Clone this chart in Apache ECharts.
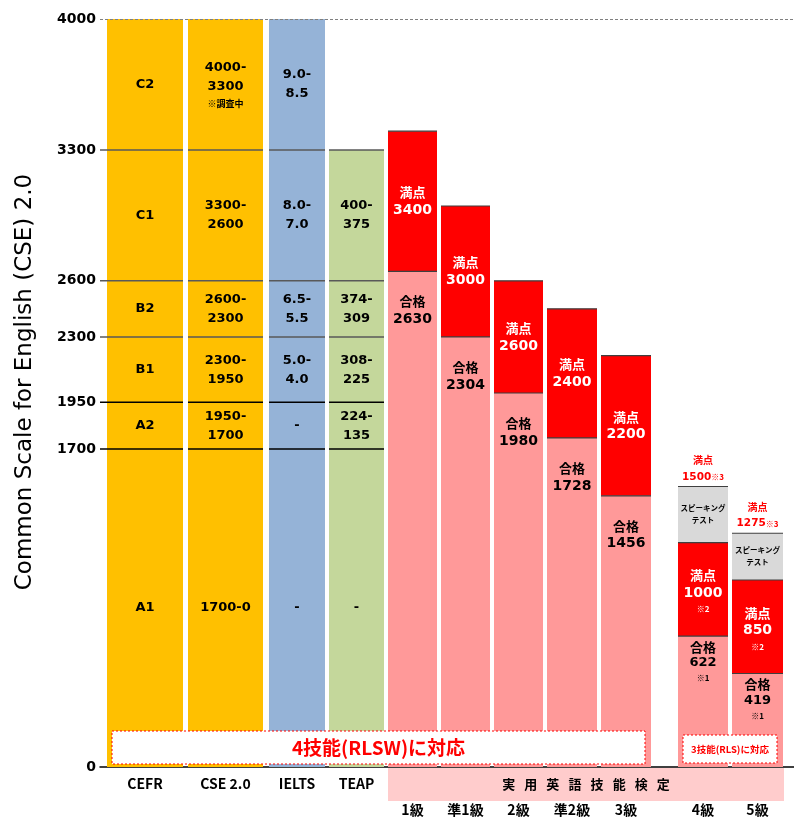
<!DOCTYPE html>
<html><head><meta charset="utf-8">
<script src="https://cdn.jsdelivr.net/npm/echarts@6/dist/echarts.min.js"></script>
<style>html,body{margin:0;padding:0;background:#fff}#c{width:794px;height:826px}</style>
</head><body><div id="c"></div>
<script>
// ---------------- data ----------------
const cseBounds = [4000, 3300, 2600, 2300, 1950, 1700, 0];
const yTicks = [0, 1700, 1950, 2300, 2600, 3300, 4000];
const cefrLevels = ['C2', 'C1', 'B2', 'B1', 'A2', 'A1'];
const cseRanges = ['4000-\n3300', '3300-\n2600', '2600-\n2300', '2300-\n1950', '1950-\n1700', '1700-0'];
const cseNotes = ['※調査中', '', '', '', '', ''];
const ieltsBands = ['9.0-\n8.5', '8.0-\n7.0', '6.5-\n5.5', '5.0-\n4.0', '-', '-'];
const teapScores = [null, '400-\n375', '374-\n309', '308-\n225', '224-\n135', '-'];
const testNames = ['CEFR', 'CSE 2.0', 'IELTS', 'TEAP'];
const gradeNames = ['1級', '準1級', '2級', '準2級', '3級', '4級', '5級'];
const fullScoreLabel = ['3400', '3000', '2600', '2400', '2200', '1000', '850'];
const passScoreLabel = ['2630', '2304', '1980', '1728', '1456', '622', '419'];
const speakingScoreLabel = [null, null, null, null, null, '1500', '1275'];
const fullNote = ['', '', '', '', '', '※2', '※2'];
const passNote = ['', '', '', '', '', '※1', '※1'];
const speakingNote = ['', '', '', '', '', '※3', '※3'];
// heights as drawn in the picture (CSE scale)
const passTop = [2650, 2300, 2000, 1760, 1450, 700, 500];
const fullTop = [3400, 3000, 2600, 2450, 2200, 1200, 1000];
const speakingTop = [null, null, null, null, null, 1500, 1250];

// ---------------- layout ----------------
const GRID_LEFT = 100, GRID_TOP = 19, GRID_BOTTOM = 59, X_MAX = 694;
const TABLE_COLS = [[7, 83], [88, 163], [169, 225], [229, 284]];
const GRADE_COLS = [[288, 337], [341, 390], [394, 443], [447, 497], [501, 551], [578, 628], [632, 683]];
const COL_COLORS = ['#ffc000', '#ffc000', '#95b3d7', '#c4d79b'];
const FF_NUM = '"DejaVu Sans","Noto Sans CJK JP",sans-serif';
const FF_JP = '"Noto Sans CJK JP","DejaVu Sans",sans-serif';
const FF_AX = '"Liberation Sans Narrow","Noto Sans CJK JP",sans-serif';

const tableTexts = [cefrLevels, cseRanges, ieltsBands, teapScores];
const tableItems = [];
for (let c = 0; c < 4; c++) {
  for (let b = 0; b < 6; b++) {
    const t = tableTexts[c][b];
    if (t === null) continue;
    tableItems.push({ value: [c, cseBounds[b + 1], cseBounds[b], b], text: t, note: c === 1 ? cseNotes[b] : '' });
  }
}

function rich(fill) {
  return {
    a: { fill, fontFamily: FF_NUM, fontSize: 13, fontWeight: 'bold', lineHeight: 19 },
    k: { fill, fontFamily: FF_JP, fontSize: 13, fontWeight: 'bold', lineHeight: 18 },
    n: { fill, fontFamily: FF_NUM, fontSize: 14, fontWeight: 'bold', lineHeight: 18 },
    k2: { fill, fontFamily: FF_JP, fontSize: 13, fontWeight: 'bold', lineHeight: 16 },
    n2: { fill, fontFamily: FF_NUM, fontSize: 13, fontWeight: 'bold', lineHeight: 16 },
    s: { fill, fontFamily: FF_JP, fontSize: 8, fontWeight: 'bold', lineHeight: 14 },
    note: { fill, fontFamily: FF_JP, fontSize: 9, fontWeight: 'bold', lineHeight: 15 },
    t: { fill, fontFamily: FF_JP, fontSize: 7.5, fontWeight: 'bold', lineHeight: 12 },
    r: { fill, fontFamily: FF_JP, fontSize: 10, fontWeight: 'bold', lineHeight: 17 },
    rn: { fill, fontFamily: FF_NUM, fontSize: 10.5, fontWeight: 'bold', lineHeight: 17 },
    rs: { fill, fontFamily: FF_JP, fontSize: 8, fontWeight: 'bold', lineHeight: 17 }
  };
}
function richLines(tag, s) { return s.split('\n').map(l => '{' + tag + '|' + l + '}').join('\n'); }

function renderTable(params, api) {
  const item = tableItems[params.dataIndex];
  const c = api.value(0), lo = api.value(1), hi = api.value(2);
  const [x0, x1] = TABLE_COLS[c];
  const tl = api.coord([x0, hi]), br = api.coord([x1, lo]);
  const children = [{ type: 'rect', shape: { x: tl[0], y: tl[1], width: br[0] - tl[0], height: br[1] - tl[1] }, style: { fill: COL_COLORS[c] } }];
  if (hi < 4000) {
    const xs = c === 0 ? api.coord([0, hi])[0] : tl[0];
    children.push({ type: 'line', shape: { x1: xs, y1: tl[1], x2: br[0], y2: tl[1] }, style: { stroke: hi >= 2300 ? '#595959' : '#000', lineWidth: 1.5 } });
  }
  let txt = richLines('a', item.text);
  if (item.note) txt += '\n{note|' + item.note + '}';
  children.push({ type: 'text', style: { text: txt, rich: rich('#000'), x: (tl[0] + br[0]) / 2, y: (tl[1] + br[1]) / 2, align: 'center', verticalAlign: 'middle' } });
  return { type: 'group', children };
}

function renderGrade(params, api) {
  const g = params.dataIndex;
  const [x0, x1] = GRADE_COLS[g];
  const cx = (api.coord([x0, 0])[0] + api.coord([x1, 0])[0]) / 2;
  const pB = api.coord([x0, 0]), pP = api.coord([x1, api.value(1)]), pF = api.coord([x1, api.value(2)]);
  const w = pP[0] - pB[0];
  const sp = api.value(3);
  const hasSp = isFinite(sp) && sp > 0;
  const children = [];
  children.push({ type: 'rect', shape: { x: pB[0], y: pP[1], width: w, height: pB[1] - pP[1] }, style: { fill: '#ff9999' } });
  children.push({ type: 'rect', shape: { x: pB[0], y: pF[1], width: w, height: pP[1] - pF[1] }, style: { fill: '#ff0000' } });
  let pS = null;
  if (hasSp) {
    pS = api.coord([x1, sp]);
    children.push({ type: 'rect', shape: { x: pB[0], y: pS[1], width: w, height: pF[1] - pS[1] }, style: { fill: '#d9d9d9' } });
  }
  const tops = [pP[1], pF[1]];
  if (pS) tops.push(pS[1]);
  tops.forEach(y => children.push({ type: 'line', shape: { x1: pB[0], y1: y, x2: pB[0] + w, y2: y }, style: { stroke: '#3f3f3f', lineWidth: 1.2 } }));
  if (!hasSp) {
    children.push({ type: 'text', style: { text: '{k|満点}\n{n|' + fullScoreLabel[g] + '}', rich: rich('#fff'), x: cx, y: (pF[1] + pP[1]) / 2, align: 'center', verticalAlign: 'middle' } });
    children.push({ type: 'text', style: { text: '{k|合格}\n{n|' + passScoreLabel[g] + '}', rich: rich('#000'), x: cx, y: pP[1] + 21, align: 'center', verticalAlign: 'top' } });
  } else {
    children.push({ type: 'text', style: { text: '{k|満点}\n{n|' + fullScoreLabel[g] + '}\n{s|' + fullNote[g] + '}', rich: rich('#fff'), x: cx, y: (pF[1] + pP[1]) / 2 + 2, align: 'center', verticalAlign: 'middle' } });
    children.push({ type: 'text', style: { text: '{k2|合格}\n{n2|' + passScoreLabel[g] + '}\n{s|' + passNote[g] + '}', rich: rich('#000'), x: cx, y: pP[1] + 3, align: 'center', verticalAlign: 'top' } });
    children.push({ type: 'text', style: { text: '{t|スピーキング}\n{t|テスト}', rich: rich('#000'), x: cx, y: (pS[1] + pF[1]) / 2, align: 'center', verticalAlign: 'middle' } });
    children.push({ type: 'text', style: { text: '{r|満点}\n{rn|' + speakingScoreLabel[g] + '}{rs|' + speakingNote[g] + '}', rich: rich('#ff0000'), x: cx, y: pS[1] - 1, align: 'center', verticalAlign: 'bottom' } });
  }
  return { type: 'group', children };
}

const gradeData = gradeNames.map((n, i) => [i, passTop[i], fullTop[i], speakingTop[i] === null ? 0 : speakingTop[i]]);

// graphic (below-axis labels, title, annotation boxes)
const plotBottom = 826 - GRID_BOTTOM;
const graphic = [];
graphic.push({ type: 'text', x: 25, y: 382, rotation: Math.PI / 2, style: { text: 'Common Scale for English (CSE) 2.0', fontFamily: FF_NUM, fontSize: 23, fill: '#000', align: 'center', verticalAlign: 'middle' } });
graphic.push({ type: 'rect', shape: { x: GRID_LEFT + GRADE_COLS[0][0], y: plotBottom + 1, width: 684 - GRADE_COLS[0][0], height: 33 }, style: { fill: '#ffcccc' } });
graphic.push({ type: 'text', x: GRID_LEFT + (GRADE_COLS[0][0] + 684) / 2, y: plotBottom + 17, style: { text: '実用英語技能検定'.split('').join('\u2002\u2009'), fontFamily: FF_JP, fontSize: 13, fontWeight: 'bold', fill: '#000', align: 'center', verticalAlign: 'middle' } });
testNames.forEach((n, i) => {
  graphic.push({ type: 'text', x: GRID_LEFT + (TABLE_COLS[i][0] + TABLE_COLS[i][1]) / 2, y: plotBottom + 17, style: { text: n, fontFamily: FF_AX, fontSize: 14, fontWeight: 'bold', fill: '#000', align: 'center', verticalAlign: 'middle' } });
});
gradeNames.forEach((n, i) => {
  graphic.push({ type: 'text', x: GRID_LEFT + (GRADE_COLS[i][0] + GRADE_COLS[i][1]) / 2, y: plotBottom + 43, style: { text: n, fontFamily: FF_AX, fontSize: 14, fontWeight: 'bold', fill: '#000', align: 'center', verticalAlign: 'middle' } });
});
graphic.push({ type: 'rect', z: 100, zlevel: 1, shape: { x: 112, y: 731, width: 533, height: 33 }, style: { fill: '#fff', stroke: '#ff0000', lineWidth: 1, lineDash: [2, 2] } });
graphic.push({ type: 'text', z: 101, zlevel: 1, x: 378.5, y: 748, style: { text: '4技能(RLSW)に対応', fontFamily: FF_JP, fontSize: 19, fontWeight: 'bold', fill: '#ff0000', align: 'center', verticalAlign: 'middle' } });
graphic.push({ type: 'rect', z: 100, zlevel: 1, shape: { x: 683, y: 735, width: 94, height: 28 }, style: { fill: '#fff', stroke: '#ff0000', lineWidth: 1, lineDash: [2, 2] } });
graphic.push({ type: 'text', z: 101, zlevel: 1, x: 730, y: 749, style: { text: '3技能(RLS)に対応', fontFamily: FF_JP, fontSize: 9.5, fontWeight: 'bold', fill: '#ff0000', align: 'center', verticalAlign: 'middle' } });

const chart = echarts.init(document.getElementById('c'), null, { renderer: 'canvas' });
chart.setOption({
  animation: false,
  backgroundColor: '#fff',
  grid: { left: GRID_LEFT, right: 0, top: GRID_TOP, bottom: GRID_BOTTOM, containLabel: false, outerBoundsMode: 'none' },
  xAxis: { type: 'value', min: 0, max: X_MAX, axisLine: { show: true, onZero: false, lineStyle: { color: '#000', width: 1.5 } }, axisTick: { show: false }, axisLabel: { show: false }, splitLine: { show: false } },
  yAxis: { type: 'value', min: 0, max: 4000, axisLine: { show: false }, axisTick: { show: false }, splitLine: { show: false },
    axisLabel: { customValues: yTicks, formatter: v => String(v), fontSize: 14, fontWeight: 'bold', fontFamily: FF_NUM, color: '#000', margin: 4 } },
  graphic,
  series: [
    { type: 'custom', name: 'table', renderItem: renderTable, data: tableItems, clip: false, z: 2,
      markLine: { silent: true, symbol: 'none', label: { show: false }, lineStyle: { type: [3, 2], color: '#808080', width: 1 }, data: [{ yAxis: 4000 }] } },
    { type: 'custom', name: 'eiken', renderItem: renderGrade, data: gradeData, clip: false, z: 3 }
  ]
});
</script></body></html>
